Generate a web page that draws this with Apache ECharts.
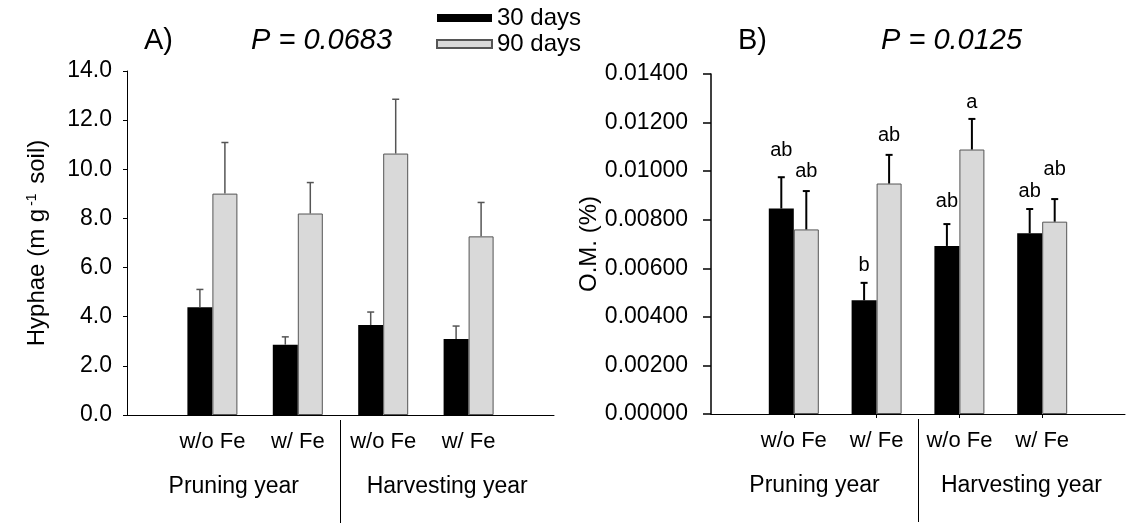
<!DOCTYPE html>
<html>
<head>
<meta charset="utf-8">
<script src="https://cdn.jsdelivr.net/npm/echarts@6/dist/echarts.min.js"></script>
<style>
  html, body { margin: 0; padding: 0; background: #fff; }
  #main { width: 1128px; height: 527px; }
</style>
</head>
<body>
<div id="main"></div>
<script>
// x categories (first and last slots are empty so the axis runs past the bars)
const feLabels = ['', 'w/o Fe', 'w/ Fe', 'w/o Fe', 'w/ Fe', '']
const yearLabels = ['Pruning year', 'Harvesting year']
const seriesNames = ['30 days', '90 days']

// A) hyphae, mean and standard error
const hyphae30 = [4.39, 2.86, 3.66, 3.09]
const hyphae30SE = [0.72, 0.32, 0.53, 0.53]
const hyphae90 = [9.01, 8.2, 10.64, 7.27]
const hyphae90SE = [2.08, 1.26, 2.21, 1.38]

// B) organic matter, mean and standard error
const om30 = [0.00846, 0.00468, 0.00692, 0.00744]
const om30SE = [0.00129, 0.00072, 0.0009, 0.001]
const om90 = [0.0076, 0.00949, 0.01089, 0.00792]
const om90SE = [0.00158, 0.00118, 0.00126, 0.00093]

// significance letters and the height they are written at
const om30Letters = ['ab', 'b', 'ab', 'ab']
const om30LetterY = [0.01085, 0.0061, 0.00874, 0.00915]
const om90Letters = ['ab', 'ab', 'a', 'ab']
const om90LetterY = [0.00998, 0.01146, 0.01282, 0.01006]

const FONT = 'Liberation Sans, Arial, sans-serif'
const BAR_W = 25

const pad = (a) => ['-', ...a, '-']

function errData(mean, se) {
  return mean.map((m, i) => [i + 1, m + se[i], m])
}

function errRender(shift, color, lw, letters, letterY) {
  return function (params, api) {
    const i = params.dataIndex
    const x = api.coord([api.value(0), 0])[0] + shift
    const yTop = api.coord([api.value(0), api.value(1)])[1]
    const yBase = api.coord([api.value(0), api.value(2)])[1]
    const children = [
      { type: 'line', shape: { x1: x, y1: yBase, x2: x, y2: yTop }, style: { stroke: color, lineWidth: lw } },
      { type: 'line', shape: { x1: x - 3.5, y1: yTop, x2: x + 3.5, y2: yTop }, style: { stroke: color, lineWidth: lw } }
    ]
    if (letters) {
      const yl = api.coord([api.value(0), letterY[i]])[1]
      children.push({
        type: 'text',
        style: { x: x, y: yl, text: letters[i], textAlign: 'center', textVerticalAlign: 'middle', font: '20px ' + FONT, fill: '#000' }
      })
    }
    return { type: 'group', children: children }
  }
}

const chart = echarts.init(document.getElementById('main'))

const catAxis = (gridIndex, showTicks) => ({
  type: 'category',
  gridIndex: gridIndex,
  data: feLabels.map((d, i) => String(i)),
  boundaryGap: false,
  axisLine: { lineStyle: { color: '#000', width: 1 } },
  axisTick: { show: showTicks, length: 4, interval: (i) => i > 0 && i < 5, lineStyle: { color: '#000' } },
  axisLabel: { interval: 0, margin: 16, color: '#000', fontSize: 22, fontFamily: FONT, formatter: (v, i) => feLabels[i] },
  splitLine: { show: false }
})

const groupAxis = (gridIndex) => ({
  type: 'value',
  gridIndex: gridIndex,
  min: 0,
  max: 2,
  position: 'bottom',
  offset: 5,
  axisLine: { show: false },
  axisTick: { show: true, customValues: [1], length: 103, lineStyle: { color: '#000', width: 1 } },
  axisLabel: { customValues: [0.5, 1.5], margin: 55, color: '#000', fontSize: 23, fontFamily: FONT, formatter: (v) => yearLabels[Math.floor(v)] },
  splitLine: { show: false }
})

const titleStyle = { fontSize: 29, fontWeight: 'normal', color: '#000', fontFamily: FONT }
const pStyle = Object.assign({}, titleStyle, { fontStyle: 'italic' })

const option = {
  animation: false,
  backgroundColor: '#fff',
  title: [
    { text: 'A)', left: 139, top: 21, textStyle: titleStyle },
    { text: 'P = 0.0683', left: 246, top: 21, textStyle: pStyle },
    { text: 'B)', left: 733, top: 21, textStyle: titleStyle },
    { text: 'P = 0.0125', left: 876, top: 21, textStyle: pStyle }
  ],
  legend: {
    data: seriesNames,
    orient: 'vertical',
    left: 431,
    top: 1,
    itemWidth: 55,
    itemHeight: 8,
    itemGap: 2,
    icon: 'rect',
    textStyle: { fontSize: 24, color: '#000', fontFamily: FONT }
  },
  grid: [
    { left: 127, right: 574, top: 71, bottom: 112 },
    { left: 711, right: -8, top: 74, bottom: 113 }
  ],
  xAxis: [catAxis(0, false), catAxis(1, true), groupAxis(0), groupAxis(1)],
  yAxis: [
    {
      type: 'value',
      gridIndex: 0,
      min: 0,
      max: 14,
      interval: 2,
      name: '{t|Hyphae (m g}{s|-1}{t| soil)}',
      nameLocation: 'middle',
      nameGap: 78,
      nameTextStyle: {
        rich: {
          t: { fontSize: 24, color: '#000', fontFamily: FONT },
          s: { fontSize: 14, color: '#000', fontFamily: FONT, verticalAlign: 'top', padding: [0, 3, 10, 3] }
        }
      },
      axisLine: { show: true, lineStyle: { color: '#000', width: 1 } },
      axisTick: { show: true, length: 4, lineStyle: { color: '#000' } },
      axisLabel: { margin: 15, color: '#000', fontSize: 23, fontFamily: FONT, formatter: (v) => v.toFixed(1) },
      splitLine: { show: false }
    },
    {
      type: 'value',
      gridIndex: 1,
      min: 0,
      max: 0.014,
      interval: 0.002,
      name: 'O.M. (%)',
      nameLocation: 'middle',
      nameGap: 107,
      nameTextStyle: { fontSize: 24, color: '#000', fontFamily: FONT },
      axisLine: { show: true, lineStyle: { color: '#000', width: 1.5 } },
      axisTick: { show: true, length: 8, lineStyle: { color: '#000', width: 1.5 } },
      axisLabel: { margin: 23, color: '#000', fontSize: 23, fontFamily: FONT, formatter: (v) => v.toFixed(5) },
      splitLine: { show: false }
    }
  ],
  series: [
    {
      name: seriesNames[0], type: 'bar', xAxisIndex: 0, yAxisIndex: 0,
      data: pad(hyphae30), barWidth: BAR_W, barGap: '0%',
      itemStyle: { color: '#000' }
    },
    {
      name: seriesNames[1], type: 'bar', xAxisIndex: 0, yAxisIndex: 0,
      data: pad(hyphae90), barWidth: BAR_W, barGap: '0%',
      itemStyle: { color: '#d9d9d9', borderColor: '#555', borderWidth: 1 }
    },
    {
      name: seriesNames[0], type: 'bar', xAxisIndex: 1, yAxisIndex: 1,
      data: pad(om30), barWidth: BAR_W, barGap: '0%',
      itemStyle: { color: '#000' }
    },
    {
      name: seriesNames[1], type: 'bar', xAxisIndex: 1, yAxisIndex: 1,
      data: pad(om90), barWidth: BAR_W, barGap: '0%',
      itemStyle: { color: '#d9d9d9', borderColor: '#555', borderWidth: 1 }
    },
    {
      type: 'custom', xAxisIndex: 0, yAxisIndex: 0, z: 3,
      data: errData(hyphae30, hyphae30SE), renderItem: errRender(-BAR_W / 2, '#555', 1.5)
    },
    {
      type: 'custom', xAxisIndex: 0, yAxisIndex: 0, z: 3,
      data: errData(hyphae90, hyphae90SE), renderItem: errRender(BAR_W / 2, '#555', 1.5)
    },
    {
      type: 'custom', xAxisIndex: 1, yAxisIndex: 1, z: 3,
      data: errData(om30, om30SE), renderItem: errRender(-BAR_W / 2, '#000', 2, om30Letters, om30LetterY)
    },
    {
      type: 'custom', xAxisIndex: 1, yAxisIndex: 1, z: 3,
      data: errData(om90, om90SE), renderItem: errRender(BAR_W / 2, '#000', 2, om90Letters, om90LetterY)
    }
  ]
}

chart.setOption(option)

window.addEventListener('resize', () => {
  chart.resize()
})
</script>
</body>
</html>
